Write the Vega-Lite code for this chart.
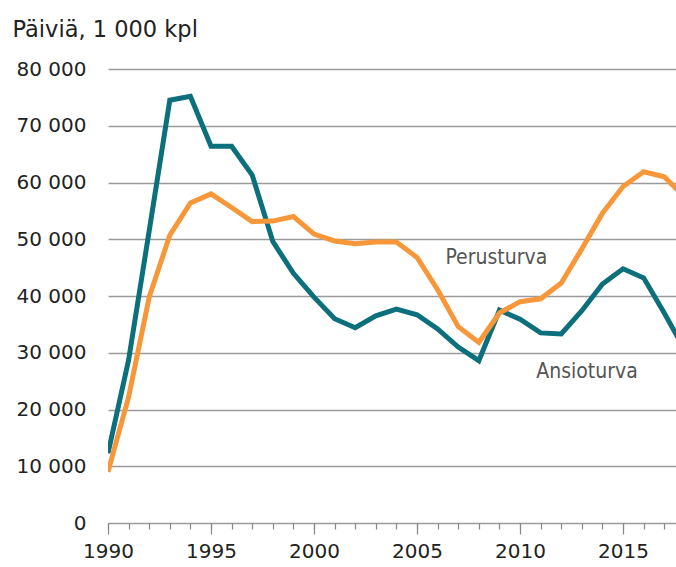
{
  "$schema": "https://vega.github.io/schema/vega-lite/v6.json",
  "width": 568,
  "height": 454,
  "autosize": {"type": "none"},
  "padding": {"left": 108, "top": 69, "right": 0, "bottom": 44},
  "background": "white",
  "config": {"view": {"stroke": null}, "font": "DejaVu Sans"},
  "datasets": {
    "series": [
      {"year": 1990, "series": "Ansioturva", "value": 12300},
      {"year": 1991, "series": "Ansioturva", "value": 28700},
      {"year": 1992, "series": "Ansioturva", "value": 51500},
      {"year": 1993, "series": "Ansioturva", "value": 74500},
      {"year": 1994, "series": "Ansioturva", "value": 75200},
      {"year": 1995, "series": "Ansioturva", "value": 66400},
      {"year": 1996, "series": "Ansioturva", "value": 66400},
      {"year": 1997, "series": "Ansioturva", "value": 61300},
      {"year": 1998, "series": "Ansioturva", "value": 49600},
      {"year": 1999, "series": "Ansioturva", "value": 44000},
      {"year": 2000, "series": "Ansioturva", "value": 39800},
      {"year": 2001, "series": "Ansioturva", "value": 36000},
      {"year": 2002, "series": "Ansioturva", "value": 34400},
      {"year": 2003, "series": "Ansioturva", "value": 36500},
      {"year": 2004, "series": "Ansioturva", "value": 37700},
      {"year": 2005, "series": "Ansioturva", "value": 36700},
      {"year": 2006, "series": "Ansioturva", "value": 34200},
      {"year": 2007, "series": "Ansioturva", "value": 31000},
      {"year": 2008, "series": "Ansioturva", "value": 28600},
      {"year": 2009, "series": "Ansioturva", "value": 37500},
      {"year": 2010, "series": "Ansioturva", "value": 35900},
      {"year": 2011, "series": "Ansioturva", "value": 33500},
      {"year": 2012, "series": "Ansioturva", "value": 33300},
      {"year": 2013, "series": "Ansioturva", "value": 37400},
      {"year": 2014, "series": "Ansioturva", "value": 42100},
      {"year": 2015, "series": "Ansioturva", "value": 44800},
      {"year": 2016, "series": "Ansioturva", "value": 43200},
      {"year": 2017, "series": "Ansioturva", "value": 37000},
      {"year": 2018, "series": "Ansioturva", "value": 30500},
      {"year": 1990, "series": "Perusturva", "value": 9000},
      {"year": 1991, "series": "Perusturva", "value": 22200},
      {"year": 1992, "series": "Perusturva", "value": 39800},
      {"year": 1993, "series": "Perusturva", "value": 50700},
      {"year": 1994, "series": "Perusturva", "value": 56400},
      {"year": 1995, "series": "Perusturva", "value": 58000},
      {"year": 1996, "series": "Perusturva", "value": 55600},
      {"year": 1997, "series": "Perusturva", "value": 53100},
      {"year": 1998, "series": "Perusturva", "value": 53200},
      {"year": 1999, "series": "Perusturva", "value": 54000},
      {"year": 2000, "series": "Perusturva", "value": 50900},
      {"year": 2001, "series": "Perusturva", "value": 49700},
      {"year": 2002, "series": "Perusturva", "value": 49200},
      {"year": 2003, "series": "Perusturva", "value": 49500},
      {"year": 2004, "series": "Perusturva", "value": 49500},
      {"year": 2005, "series": "Perusturva", "value": 46800},
      {"year": 2006, "series": "Perusturva", "value": 41100},
      {"year": 2007, "series": "Perusturva", "value": 34600},
      {"year": 2008, "series": "Perusturva", "value": 31800},
      {"year": 2009, "series": "Perusturva", "value": 37000},
      {"year": 2010, "series": "Perusturva", "value": 39000},
      {"year": 2011, "series": "Perusturva", "value": 39500},
      {"year": 2012, "series": "Perusturva", "value": 42300},
      {"year": 2013, "series": "Perusturva", "value": 48300},
      {"year": 2014, "series": "Perusturva", "value": 54600},
      {"year": 2015, "series": "Perusturva", "value": 59300},
      {"year": 2016, "series": "Perusturva", "value": 61900},
      {"year": 2017, "series": "Perusturva", "value": 61000},
      {"year": 2018, "series": "Perusturva", "value": 57400}
    ],
    "labels": [
      {"year": 2008.85, "value": 46700, "label": "Perusturva"},
      {"year": 2013.25, "value": 26600, "label": "Ansioturva"}
    ]
  },
  "resolve": {"axis": {"x": "independent"}},
  "layer": [
    {
      "data": {"name": "series"},
      "mark": {"type": "line", "strokeWidth": 5, "clip": true, "strokeJoin": "miter"},
      "encoding": {
        "x": {
          "field": "year", "type": "quantitative",
          "scale": {"domain": [1990, 2017.57], "nice": false, "zero": false},
          "axis": {
            "orient": "bottom",
            "title": null,
            "values": [1990,1991,1992,1993,1994,1995,1996,1997,1998,1999,2000,2001,2002,2003,2004,2005,2006,2007,2008,2009,2010,2011,2012,2013,2014,2015,2016,2017],
            "labels": false,
            "domain": false,
            "grid": false,
            "tickColor": "#888888",
            "tickWidth": 1.2,
            "tickSize": 6
          }
        },
        "y": {
          "field": "value", "type": "quantitative",
          "scale": {"domain": [0, 80000], "nice": false},
          "axis": {
            "title": "Päiviä, 1 000 kpl",
            "titleAngle": 0,
            "titleAlign": "left",
            "titleBaseline": "middle",
            "titleX": -96,
            "titleY": -40,
            "titleFontSize": 22.5,
            "titleFontWeight": "normal",
            "titleColor": "#222222",
            "values": [0,10000,20000,30000,40000,50000,60000,70000,80000],
            "labelExpr": "datum.value == 0 ? '0' : format(datum.value / 1000, 'd') + ' 000'",
            "domain": false,
            "ticks": false,
            "grid": true,
            "gridColor": "#9a9a9a",
            "gridWidth": 1.5,
            "labelPadding": 22,
            "labelFontSize": 20,
            "labelColor": "#222222"
          }
        },
        "color": {
          "field": "series", "type": "nominal",
          "scale": {"domain": ["Ansioturva", "Perusturva"], "range": ["#0b6f7c", "#f7973a"]},
          "legend": null
        }
      }
    },
    {
      "data": {"name": "labels"},
      "mark": {"type": "text", "fontSize": 21, "font": "DejaVu Sans Condensed", "color": "#555555", "align": "center", "baseline": "middle"},
      "encoding": {
        "x": {
          "field": "year", "type": "quantitative",
          "axis": {
            "orient": "bottom",
            "title": null,
            "values": [1990, 1995, 2000, 2005, 2010, 2015],
            "format": "d",
            "domain": false,
            "grid": false,
            "tickColor": "#888888",
            "tickWidth": 1.2,
            "tickSize": 11,
            "labelPadding": 7,
            "labelFontSize": 20,
            "labelColor": "#222222",
            "labelFlush": false,
            "labelOverlap": false
          }
        },
        "y": {"field": "value", "type": "quantitative"},
        "text": {"field": "label"}
      }
    }
  ]
}
